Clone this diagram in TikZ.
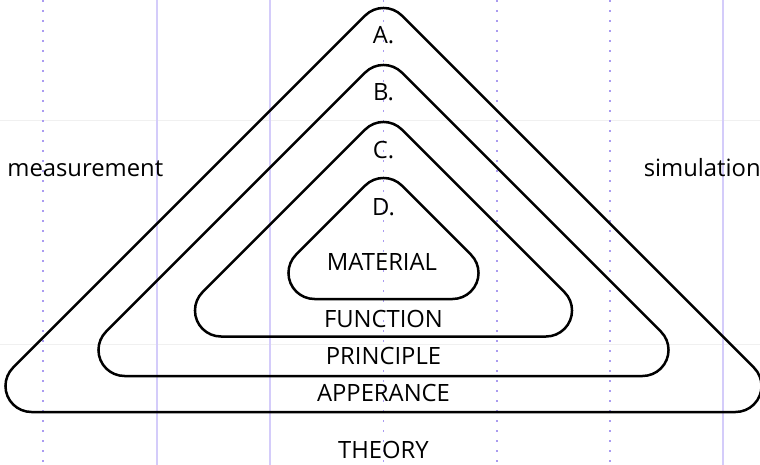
\documentclass[tikz,border=0pt]{standalone}
\usepackage{fontspec}
\setmainfont{Open Sans}
\usetikzlibrary{positioning}

\definecolor{lila}{RGB}{212,204,250}
\definecolor{lilapunto}{RGB}{170,155,240}

% capa redondeada: #1 = vertice agudo, #2 = base (radio 26 en todas las esquinas)
\newcommand{\capa}[2]{%
  \draw[capa] ({383.5-(#2-(#1))+62.77},#2) arc[start angle=90, end angle=225, radius=26]
    -- ({383.5-18.38},{#1+18.38}) arc[start angle=225, end angle=315, radius=26]
    -- ({383.5+(#2-(#1))-62.77+18.38},{#2-44.38}) arc[start angle=315, end angle=450, radius=26]
    -- cycle;}

\begin{document}
\begin{tikzpicture}[
    x=0.5pt, y=-0.5pt,
    font=\fontsize{11.9}{14}\selectfont,
    capa/.style={draw, line width=1.25pt},
    rotulo/.style={anchor=base, inner sep=0pt},
    guia/.style={draw=lila, line width=1pt},
    guiapunto/.style={draw=lilapunto, line width=0.8pt, dash pattern=on 1pt off 4pt},
    guiah/.style={draw=black!6, line width=0.5pt}
  ]
    \useasboundingbox (0,0) rectangle (760,465);
    % guias del lienzo
    \draw[guiah] (0,121) -- (760,121);
    \draw[guiah] (0,344) -- (760,344);
    \draw[guia] (157,0) -- (157,465);
    \draw[guia] (270,0) -- (270,465);
    \draw[guia] (723,0) -- (723,465);
    \draw[guiapunto] (43,0) -- (43,465);
    \draw[guiapunto] (383.5,0) -- (383.5,465);
    \draw[guiapunto] (497,0) -- (497,465);
    \draw[guiapunto] (610,0) -- (610,465);
    % capas
    \capa{-2.8}{412}
    \capa{54.2}{376}
    \capa{111.2}{336.5}
    \capa{167.2}{299}
    % rotulos
    \node[rotulo] (a) at (383.5,44) {A.};
    \node[rotulo] (b) at (383.5,101) {B.};
    \node[rotulo] (c) at (383.5,158) {C.};
    \node[rotulo] (d) at (383.5,215) {D.};
    \node[rotulo] (material) at (382,270) {MATERIAL};
    \node[rotulo] (function) at (383.5,327) {FUNCTION};
    \node[rotulo] (principle) at (383.5,364.5) {PRINCIPLE};
    \node[rotulo] (apperance) at (383.5,401.5) {APPERANCE};
    \node[rotulo] (theory) at (383.5,458) {THEORY};
    \node[rotulo, anchor=base west] (meas) at (7,176.7) {measurement};
    \node[rotulo, anchor=base east] (sim) at (761,176.7) {simulation};
\end{tikzpicture}
\end{document}
